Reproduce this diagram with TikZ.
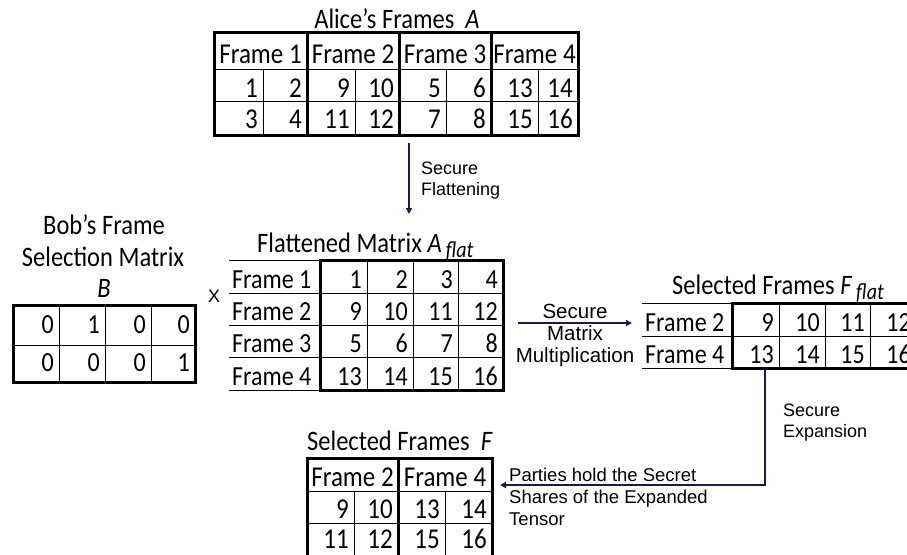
\documentclass[tikz,border=0pt]{standalone}
\usepackage{graphicx}
\usepackage{fontspec}
\setmainfont{Carlito}
\newfontfamily\arialf{Liberation Sans}
\usetikzlibrary{arrows.meta}
\definecolor{arr}{RGB}{38,22,72}
\newcommand{\cb}[1]{\scalebox{1}[1.15]{#1}}
\newcommand{\subflat}{\,\raisebox{-5pt}{\fontsize{20}{24}\selectfont\textit{flat}}}
\begin{document}
\begin{tikzpicture}[x=1pt,y=-1pt,
  thinl/.style={line width=1pt},
  thkl/.style={line width=3pt},
  conn/.style={draw=arr,line width=2.5pt,-{Triangle[length=6pt,width=6pt]}},
  lbl/.style={font=\arialf\fontsize{18}{21}\selectfont,align=left,inner sep=0},
  lblc/.style={font=\arialf\fontsize{20.5}{22}\selectfont,align=center,inner sep=0},
  ttl/.style={font=\fontsize{24.5}{28}\selectfont,inner sep=0},
  num/.style={font=\fontsize{24}{28}\selectfont,inner sep=0,anchor=base east},
  bignum/.style={num,font=\fontsize{25}{28}\selectfont},
  hdr/.style={font=\fontsize{25}{28}\selectfont,inner sep=0,anchor=base},
  rowl/.style={font=\fontsize{24}{28}\selectfont,inner sep=0,anchor=base west}]
\useasboundingbox (0,0) rectangle (907,554);
\clip (0,0) rectangle (907,554);
\fill[white] (0,0) rectangle (907,554);

% ---------- Alice's frames ----------
\node[ttl,anchor=base] (aliceT) at (397,28) {\cb{Alice's Frames\ \ \textit{A}}};
\draw[thkl] (214,32) rectangle (578,135);
\foreach \x in {307,399,491} \draw[thkl] (\x,32) -- (\x,135);
\foreach \x in {263,355,446,538} \draw[thinl] (\x,69) -- (\x,135);
\foreach \y in {69,101} \draw[thinl] (214,\y) -- (578,\y);
\foreach \cx/\t in {260.5/1,353/2,445/3,534.5/4}
  \node[hdr] (aliceH\t) at (\cx,63) {\cb{Frame \t}};
\foreach \x/\a/\b in {263/1/3,307/2/4,355/9/11,399/10/12,446/5/7,491/6/8,538/13/15,578/14/16}{
  \node[bignum] (aliceA\a) at (\x-5,97) {\cb{\a}};
  \node[bignum] (aliceB\b) at (\x-5,128) {\cb{\b}};
}
\coordinate (flatS) at (409,143);
\coordinate (flatE) at (409,214);
\draw[conn] (flatS) -- (flatE);
\node[lbl,anchor=west] (flatL) at (421,180.5) {Secure\\Flattening};

% ---------- Bob ----------
\node[ttl,anchor=base] (bobT1) at (104,234) {\cb{Bob's Frame}};
\node[ttl,anchor=base] (bobT2) at (103,266) {\cb{Selection Matrix}};
\node[ttl,anchor=base] (bobT3) at (104,297) {\cb{\textit{B}}};
\draw[thkl] (13,305) rectangle (195,382);
\foreach \x in {59,105,151} \draw[thinl] (\x,305) -- (\x,382);
\draw[thinl] (13,345) -- (195,345);
\foreach \x/\a/\b [count=\i] in {59/0/0,105/1/0,151/0/0,195/0/1}{
  \node[num] (bobA\i) at (\x-5,333) {\cb{\a}};
  \node[num] (bobB\i) at (\x-5,371) {\cb{\b}};
}
\node[font=\arialf\fontsize{18}{22}\selectfont,inner sep=0] (times) at (214,296) {X};

% ---------- Flattened matrix ----------
\node[ttl,anchor=base west] (flatT) at (257,252) {\cb{Flattened Matrix \textit{A}\subflat}};
\foreach \y in {260,293,325,357,390} \draw[thinl] (229,\y) -- (503,\y);
\draw[thkl] (320,260) rectangle (503,390);
\foreach \x in {367,413,458} \draw[thinl] (\x,260) -- (\x,390);
\foreach \y/\f/\a/\b/\c/\d in {288/1/1/2/3/4,320/2/9/10/11/12,352/3/5/6/7/8,385/4/13/14/15/16}{
  \node[rowl] (flatR\f) at (232,\y) {\cb{Frame \f}};
  \node[num] (flat\f a) at (367-5,\y) {\cb{\a}};
  \node[num] (flat\f b) at (413-5,\y) {\cb{\b}};
  \node[num] (flat\f c) at (458-5,\y) {\cb{\c}};
  \node[num] (flat\f d) at (503-5,\y) {\cb{\d}};
}

% ---------- multiplication arrow ----------
\coordinate (mulS) at (518,323);
\coordinate (mulE) at (632,323);
\draw[conn] (mulS) -- (mulE);
\node[lblc] (mulL) at (575,335) {Secure\\Matrix\\Multiplication};

% ---------- Selected frames F_flat ----------
\node[ttl,anchor=base west] (selT) at (672,294) {\cb{Selected Frames \textit{F}\subflat}};
\foreach \y in {303,336,368} \draw[thinl] (642,\y) -- (916,\y);
\draw[thkl] (732,303) rectangle (916,368);
\foreach \x in {779,825,870} \draw[thinl] (\x,303) -- (\x,368);
\foreach \y/\f/\a/\b/\c/\d in {331/2/9/10/11/12,363/4/13/14/15/16}{
  \node[rowl] (selR\f) at (645,\y) {\cb{Frame \f}};
  \node[num] (sel\f a) at (779-5,\y) {\cb{\a}};
  \node[num] (sel\f b) at (825-5,\y) {\cb{\b}};
  \node[num] (sel\f c) at (870-5,\y) {\cb{\c}};
  \node[num] (sel\f d) at (916-5,\y) {\cb{\d}};
}

% ---------- expansion arrow ----------
\coordinate (expS) at (765,370);
\coordinate (expC) at (765,485);
\coordinate (expE) at (500,485);
\draw[conn] (expS) -- (expC) -- (expE);
\node[lbl,anchor=west] (expL) at (783,423) {Secure\\Expansion};
\node[lbl,anchor=west,font=\arialf\fontsize{18.5}{22}\selectfont] (partL) at (509,497) {Parties hold the Secret\\Shares of the Expanded\\Tensor};

% ---------- Selected frames F ----------
\node[ttl,anchor=base west] (fT) at (307,450) {\cb{Selected Frames\ \ \textit{F}}};
\draw[thkl] (307,458) rectangle (492,556);
\draw[thkl] (398,458) -- (398,556);
\foreach \x in {354,445} \draw[thinl] (\x,491) -- (\x,556);
\foreach \y in {491,523} \draw[thinl] (307,\y) -- (492,\y);
\node[hdr] (fH2) at (352.5,486) {\cb{Frame 2}};
\node[hdr] (fH4) at (445,486) {\cb{Frame 4}};
\foreach \x/\a/\b in {354/9/11,398/10/12,445/13/15,492/14/16}{
  \node[bignum] (fA\a) at (\x-5,518) {\cb{\a}};
  \node[bignum] (fB\b) at (\x-5,548) {\cb{\b}};
}
\end{tikzpicture}
\end{document}
